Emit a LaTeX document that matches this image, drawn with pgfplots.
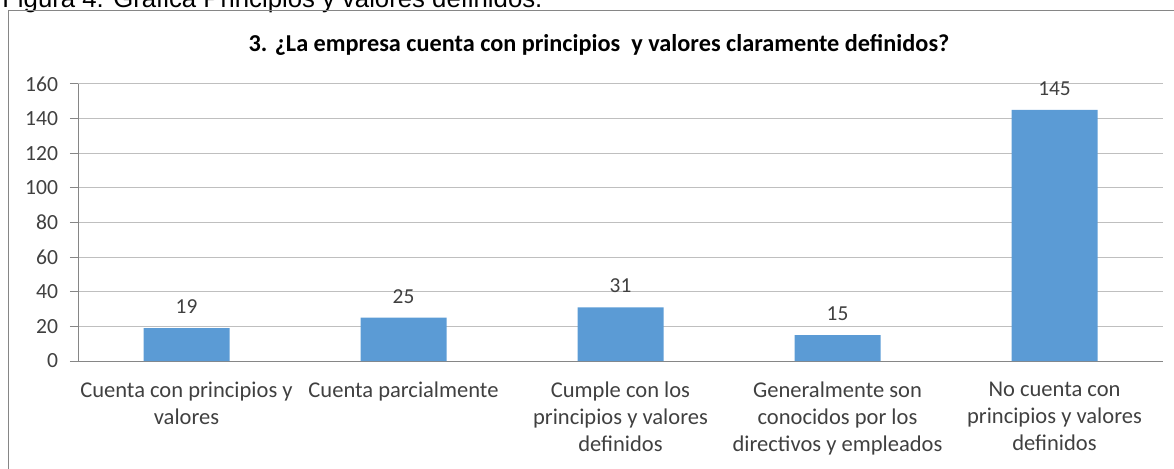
\documentclass[border=0pt]{standalone}
\usepackage{fontspec}
\setmainfont{Carlito}
\newfontfamily\capfont{Liberation Sans}
\usepackage{pgfplots}
\pgfplotsset{compat=1.18}
\definecolor{barblue}{HTML}{5B9BD5}
\definecolor{axgray}{HTML}{868686}
\definecolor{gridgray}{HTML}{BFBFBF}
\definecolor{txt}{HTML}{404040}

\begin{document}
\begin{tikzpicture}[x=0.75pt, y=0.75pt]
% caption of the figure, cut by the page edge
\node[anchor=base west, inner sep=0pt, font=\capfont\fontsize{19.3pt}{23pt}\selectfont]
  at (2,460) {Figura 4. Gráfica Principios y valores definidos.};
% chart frame
\draw[axgray, line width=0.75pt] (8,-200) -- (8,457) -- (1300,457);
% title
\node[font=\bfseries\fontsize{18.2pt}{21pt}\selectfont] at (599,423)
  {3. ¿La empresa cuenta con principios\ \ y valores claramente definidos?};

\begin{axis}[
  at={(58.5pt,80.25pt)}, anchor=south west,
  scale only axis, width=813.75pt, height=207.75pt,
  xmin=-0.5, xmax=4.5, ymin=0, ymax=160,
  ytick={0,20,...,160},
  xtick={0,1,2,3,4},
  xticklabels={Cuenta con principios y\\valores,
               Cuenta parcialmente,
               Cumple con los\\principios y valores\\definidos,
               Generalmente son\\conocidos por los\\directivos y empleados,
               No cuenta con\\principios y valores\\definidos},
  xtick style={draw=none},
  extra x ticks={-0.5,0.5,1.5,2.5,3.5,4.5},
  extra x tick labels={},
  extra x tick style={grid=none, major tick length=5.25pt,
                      tick style={draw=axgray, line width=0.75pt}},
  axis x line*=bottom, axis y line*=left,
  axis line style={draw=axgray, line width=0.75pt, -},
  tick align=outside,
  major tick length=6pt,
  ytick style={draw=axgray, line width=0.75pt},
  ymajorgrids, grid style={draw=gridgray, line width=0.75pt},
  /pgf/number format/assume math mode=true,
  yticklabel style={font=\fontsize{16.2pt}{19pt}\selectfont, text=txt,
                    xshift=-5.5pt},
  xticklabel style={font=\fontsize{16.9pt}{20.2pt}\selectfont, text=txt,
                    align=center, yshift=-6pt},
  ybar, bar width=64.5pt,
  nodes near coords,
  nodes near coords style={font=\fontsize{16pt}{19pt}\selectfont, text=txt,
                           anchor=south, inner sep=0pt, yshift=10.5pt},
]
\addplot[fill=barblue, draw=none] coordinates {
  (0,19) (1,25) (2,31) (3,15) (4,145)};
\end{axis}
\pgfresetboundingbox
\useasboundingbox (0,0) rectangle (1174,468);
\end{tikzpicture}
\end{document}
